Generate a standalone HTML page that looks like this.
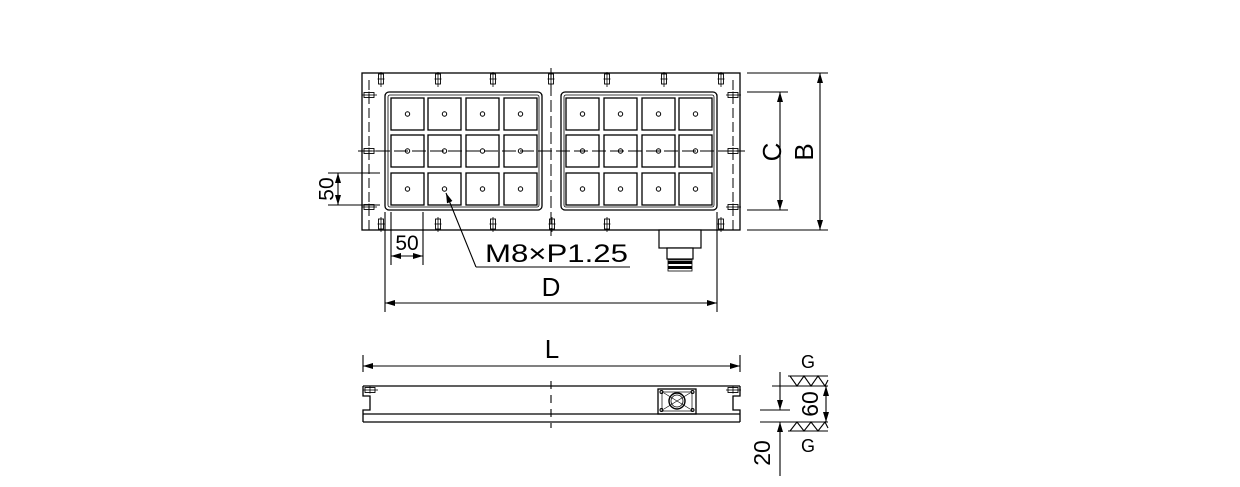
<!DOCTYPE html>
<html><head><meta charset="utf-8"><style>
html,body{margin:0;padding:0;background:#fff;width:1240px;height:487px;overflow:hidden}
svg{display:block}
text{font-family:"Liberation Sans",sans-serif;fill:#000}
</style></head><body>
<svg width="1240" height="487" viewBox="0 0 1240 487" xmlns="http://www.w3.org/2000/svg">
<defs>
<g id="cell"><rect x="0" y="0" width="33" height="32" fill="none" stroke="#000" stroke-width="1.3"/><circle cx="16.5" cy="16" r="2.2" fill="none" stroke="#000" stroke-width="1"/></g>
<g id="bv"><rect x="-2.5" y="0" width="5" height="10" fill="none" stroke="#000" stroke-width="0.9"/><line x1="0" y1="-2" x2="0" y2="13" stroke="#000" stroke-width="0.8"/><line x1="-3.5" y1="5" x2="3.5" y2="5" stroke="#000" stroke-width="0.8"/></g>
<g id="bh"><rect x="0" y="-2.5" width="10" height="5" fill="none" stroke="#000" stroke-width="0.9"/><line x1="-2" y1="0" x2="13" y2="0" stroke="#000" stroke-width="0.8"/><line x1="5" y1="-3.5" x2="5" y2="3.5" stroke="#000" stroke-width="0.8"/></g>
<marker id="a" viewBox="0 0 10 6" refX="10" refY="3" markerWidth="10" markerHeight="6" orient="auto-start-reverse" markerUnits="userSpaceOnUse"><path d="M0,0 L10,3 L0,6 z" fill="#000"/></marker>
</defs>
<g stroke="#000" fill="none" stroke-width="1.3">
<rect x="362" y="73" width="378" height="157"/>
<rect x="385" y="92" width="157" height="118" rx="4"/>
<rect x="388" y="95" width="151" height="112" rx="2" stroke-width="0.8"/>
<rect x="561" y="92" width="156" height="118" rx="4"/>
<rect x="564" y="95" width="150" height="112" rx="2" stroke-width="0.8"/>
</g>
<g>
<use href="#cell" x="391" y="98"/><use href="#cell" x="428" y="98"/><use href="#cell" x="466" y="98"/><use href="#cell" x="504" y="98"/>
<use href="#cell" x="391" y="135"/><use href="#cell" x="428" y="135"/><use href="#cell" x="466" y="135"/><use href="#cell" x="504" y="135"/>
<use href="#cell" x="391" y="173"/><use href="#cell" x="428" y="173"/><use href="#cell" x="466" y="173"/><use href="#cell" x="504" y="173"/>
<use href="#cell" x="566" y="98"/><use href="#cell" x="604" y="98"/><use href="#cell" x="642" y="98"/><use href="#cell" x="679" y="98"/>
<use href="#cell" x="566" y="135"/><use href="#cell" x="604" y="135"/><use href="#cell" x="642" y="135"/><use href="#cell" x="679" y="135"/>
<use href="#cell" x="566" y="173"/><use href="#cell" x="604" y="173"/><use href="#cell" x="642" y="173"/><use href="#cell" x="679" y="173"/>
</g>
<g stroke="#000" stroke-width="1" fill="none">
<line x1="551" y1="68" x2="551" y2="236" stroke-dasharray="12,4"/>
<line x1="369" y1="80" x2="369" y2="230" stroke-dasharray="10,4"/>
<line x1="733" y1="80" x2="733" y2="230" stroke-dasharray="10,4"/>
<line x1="358" y1="151" x2="745" y2="151" stroke-dasharray="14,4"/>
</g>
<g>
<use href="#bv" x="381" y="74"/><use href="#bv" x="438" y="74"/><use href="#bv" x="493" y="74"/><use href="#bv" x="551" y="74"/><use href="#bv" x="607" y="74"/><use href="#bv" x="664" y="74"/><use href="#bv" x="721" y="74"/>
<use href="#bv" x="381" y="219"/><use href="#bv" x="438" y="219"/><use href="#bv" x="493" y="219"/><use href="#bv" x="552" y="219"/><use href="#bv" x="607" y="219"/><use href="#bv" x="721" y="219"/>
<use href="#bh" x="364" y="95"/><use href="#bh" x="364" y="151"/><use href="#bh" x="364" y="207"/>
<use href="#bh" x="728" y="95"/><use href="#bh" x="728" y="151"/><use href="#bh" x="728" y="207"/>
</g>
<g stroke="#000" stroke-width="1.2" fill="#fff">
<rect x="659" y="230" width="42" height="18"/>
<rect x="667" y="248" width="26" height="11"/>
</g>
<rect x="668" y="261" width="24" height="3" fill="#000"/>
<rect x="668" y="266" width="24" height="3" fill="#000"/>
<rect x="668" y="260" width="24" height="11" fill="none" stroke="#000" stroke-width="0.8"/>
<g stroke="#000" stroke-width="1.1" fill="none">
<line x1="747" y1="92" x2="788" y2="92"/><line x1="747" y1="210" x2="788" y2="210"/>
<line x1="780" y1="92" x2="780" y2="210" marker-start="url(#a)" marker-end="url(#a)"/>
<line x1="747" y1="73" x2="828" y2="73"/><line x1="747" y1="230" x2="828" y2="230"/>
<line x1="820" y1="73" x2="820" y2="230" marker-start="url(#a)" marker-end="url(#a)"/>
<line x1="328" y1="173" x2="380" y2="173"/><line x1="328" y1="205" x2="380" y2="205"/>
<line x1="338" y1="173" x2="338" y2="205" marker-start="url(#a)" marker-end="url(#a)"/>
<line x1="391" y1="212" x2="391" y2="265"/><line x1="423" y1="212" x2="423" y2="265"/>
<line x1="391" y1="256" x2="423" y2="256" marker-start="url(#a)" marker-end="url(#a)"/>
<line x1="385" y1="212" x2="385" y2="312"/><line x1="717" y1="212" x2="717" y2="312"/>
<line x1="385" y1="303" x2="717" y2="303" marker-start="url(#a)" marker-end="url(#a)"/>
<polyline points="476,267 630,267"/>
<line x1="476" y1="267" x2="446" y2="193" marker-end="url(#a)"/>
</g>
<text x="772" y="152" font-size="26" text-anchor="middle" dominant-baseline="central" transform="rotate(-90 772 152)">C</text>
<text x="804" y="152" font-size="26" text-anchor="middle" dominant-baseline="central" transform="rotate(-90 804 152)">B</text>
<text x="327" y="189" font-size="21" text-anchor="middle" dominant-baseline="central" transform="rotate(-90 327 189)">50</text>
<text x="407" y="250" font-size="21" text-anchor="middle">50</text>
<text x="485" y="262" font-size="25" textLength="143" lengthAdjust="spacingAndGlyphs">M8×P1.25</text>
<text x="551" y="296" font-size="26" text-anchor="middle">D</text>
<g stroke="#000" stroke-width="1.1" fill="none">
<line x1="363" y1="355" x2="363" y2="372"/><line x1="740" y1="355" x2="740" y2="372"/>
<line x1="363" y1="366" x2="740" y2="366" marker-start="url(#a)" marker-end="url(#a)"/>
<line x1="363" y1="386" x2="740" y2="386" stroke-width="1.3"/>
<line x1="363" y1="414" x2="740" y2="414" stroke-width="1.3"/>
<line x1="363" y1="422" x2="740" y2="422" stroke-width="1.3"/>
<polyline points="363,386 363,396 370,396 370,410 363,410 363,422" stroke-width="1.3"/>
<polyline points="740,386 740,396 733,396 733,410 740,410 740,422" stroke-width="1.3"/>
<line x1="551" y1="381" x2="551" y2="428" stroke-dasharray="8,6"/>
<rect x="658" y="389" width="38" height="25" stroke-width="1.3"/>
<rect x="662" y="392" width="30" height="19" stroke-width="0.7"/>
<circle cx="677" cy="401" r="8" stroke-width="1.4"/>
<circle cx="677" cy="401" r="6" stroke-width="0.8"/>
<circle cx="661.5" cy="392" r="1.5"/><circle cx="692.5" cy="392" r="1.5"/><circle cx="661.5" cy="410" r="1.5"/><circle cx="692.5" cy="410" r="1.5"/>
<line x1="664" y1="393" x2="690" y2="409" stroke-width="0.6"/><line x1="690" y1="393" x2="664" y2="409" stroke-width="0.6"/>
<use href="#bh" x="365" y="390"/><use href="#bh" x="728" y="390"/>
<line x1="772" y1="386" x2="828" y2="386"/><line x1="760" y1="410" x2="790" y2="410"/><line x1="760" y1="422" x2="828" y2="422"/>
<line x1="826" y1="386" x2="826" y2="422" marker-start="url(#a)" marker-end="url(#a)"/>
<line x1="780" y1="372" x2="780" y2="410" marker-end="url(#a)"/>
<line x1="780" y1="476" x2="780" y2="422" marker-end="url(#a)"/>
<polyline points="788,376 828,376"/>
<polyline points="790,376 797,386 804,376 811,386 818,376 825,386 828,380"/>
<polyline points="788,431 828,431"/>
<polyline points="790,431 797,422 804,431 811,422 818,431 825,422 828,428"/>
</g>
<text x="808" y="368" font-size="18" text-anchor="middle">G</text>
<text x="808" y="452" font-size="18" text-anchor="middle">G</text>
<text x="810" y="404" font-size="23" text-anchor="middle" dominant-baseline="central" transform="rotate(-90 810 404)">60</text>
<text x="762" y="453" font-size="23" text-anchor="middle" dominant-baseline="central" transform="rotate(-90 762 453)">20</text>
<text x="552" y="358" font-size="26" text-anchor="middle">L</text>
</svg>
</body></html>
